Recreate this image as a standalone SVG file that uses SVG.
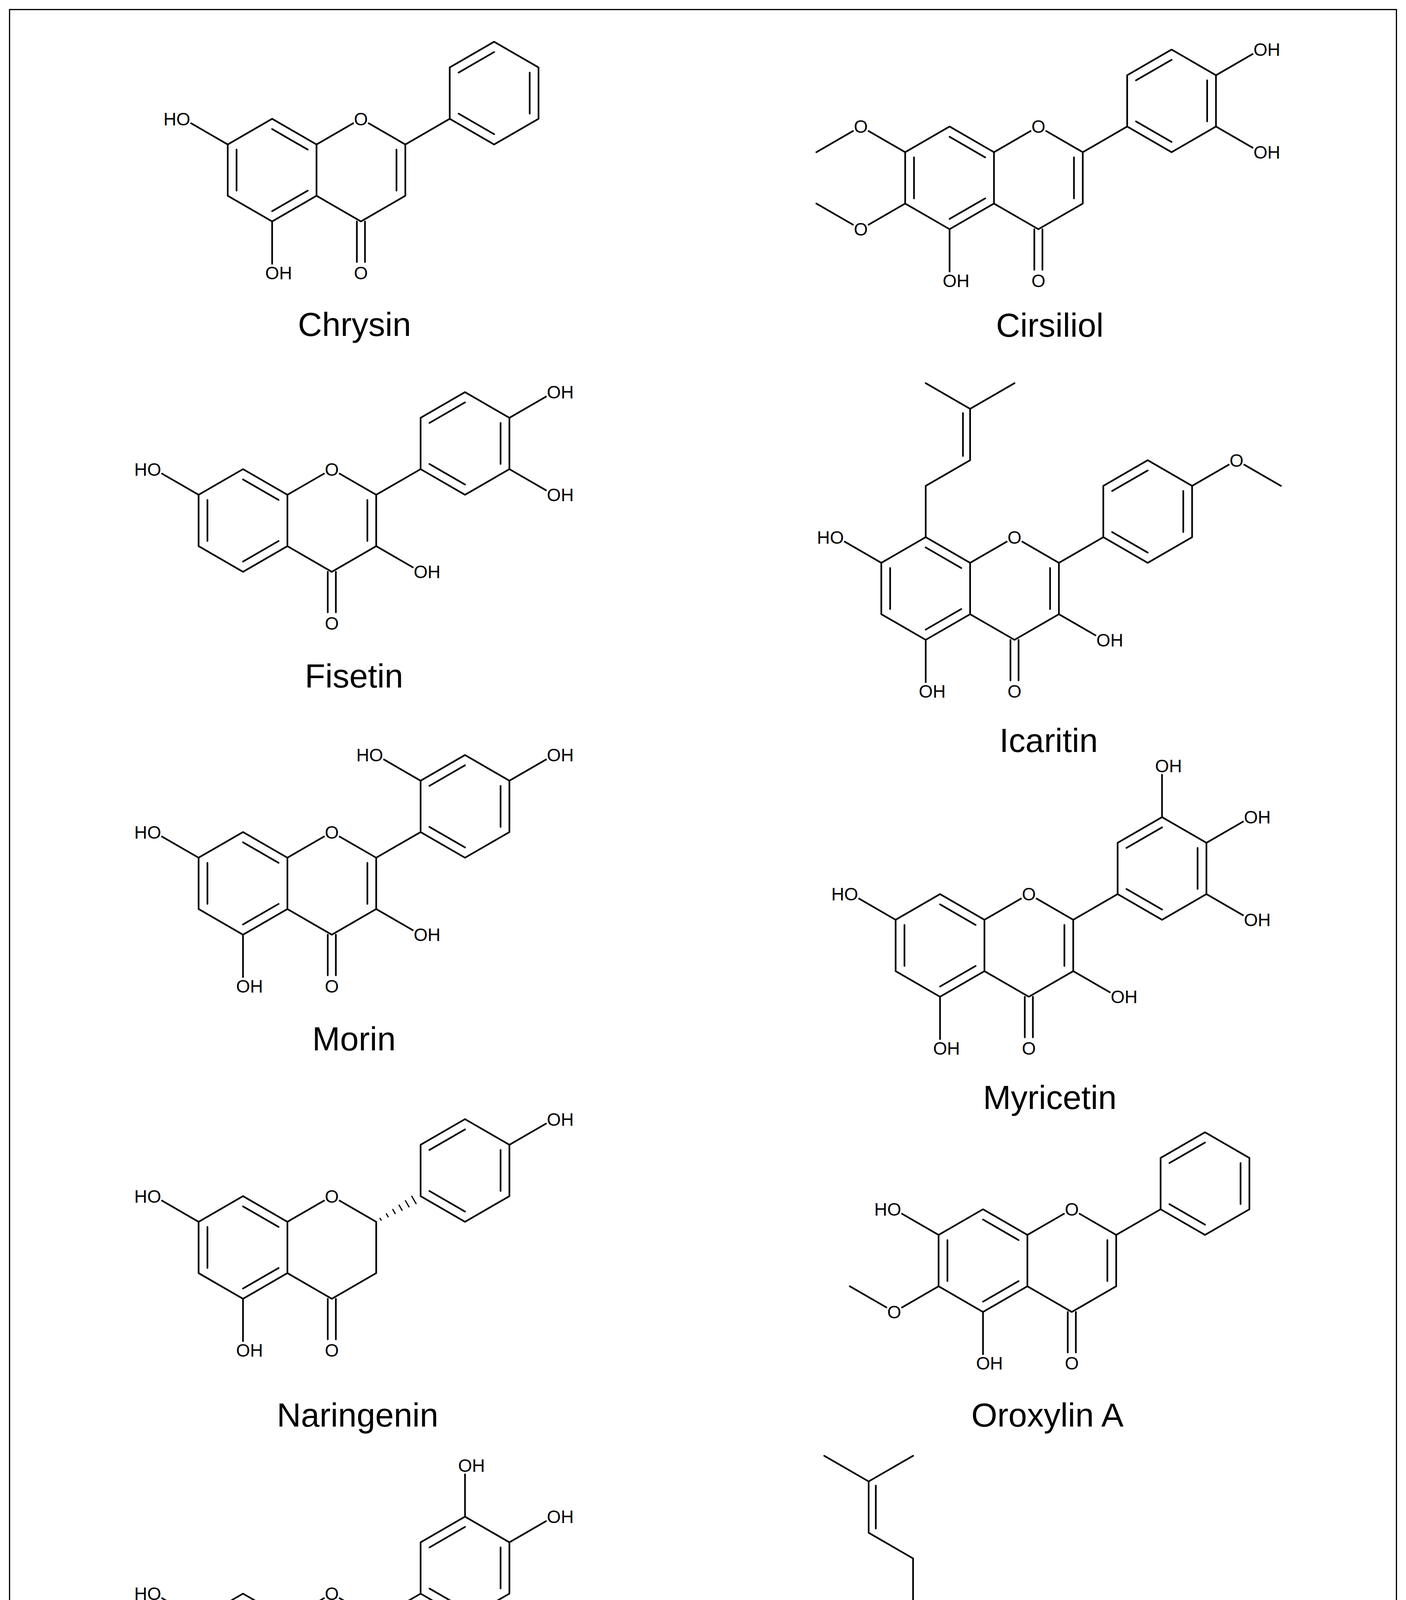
<svg xmlns="http://www.w3.org/2000/svg" xmlns:xlink="http://www.w3.org/1999/xlink" width="3600" height="4790" viewBox="0 0 3600 4790">
<style>
.b{fill:none;stroke:#000;stroke-width:1.4;stroke-linecap:round;stroke-linejoin:round}
.h{stroke:#000;stroke-width:1}
.m{fill:#fff;stroke:none}
.l{font-family:"Liberation Sans",Arial,sans-serif;font-size:15px;fill:#000}
.n{font-family:"Liberation Sans",Arial,sans-serif;font-size:28px;fill:#000;text-anchor:middle}
</style>
<defs>
<g id="coreAC">
<polygon class="b" points="0,-43 37.2,-21.5 37.2,21.5 0,43 -37.2,21.5 -37.2,-21.5"/>
<path class="b" d="M37.2,-21.5 L74.4,-43 L111.6,-21.5 L111.6,21.5 L74.4,43 L37.2,21.5 M-29.8,17.2 L-29.8,-17.2 M0,-34.4 L29.8,-17.2 M29.8,17.2 L0,34.4 M71,43 L71,77 M77.8,43 L77.8,77"/>
<circle class="m" cx="74.4" cy="-43" r="7"/>
<text class="l" x="74.4" y="-37.6" text-anchor="middle">O</text>
<text class="l" x="74.4" y="91.4" text-anchor="middle">O</text>
</g>
<path id="c23" class="b" d="M104.2,-17.2 L104.2,17.2 M111.6,-21.5 L148.8,-43"/>
<g id="ringB">
<polygon class="b" points="148.8,-43 148.8,-86 186,-107.5 223.2,-86 223.2,-43 186,-21.5"/>
<path class="b" d="M156.2,-81.7 L186,-98.9 M215.8,-81.7 L215.8,-47.3 M186,-30.1 L156.2,-47.3"/>
</g>
</defs>
<rect x="0" y="0" width="3600" height="4790" fill="#fff"/>
<g transform="scale(3.056)">
<rect x="8" y="8" width="1162" height="1552" fill="none" stroke="#000" stroke-width="1"/>

<g id="chrysin" transform="translate(228,142.5)">
<use xlink:href="#coreAC"/><use xlink:href="#c23"/><use xlink:href="#ringB"/>
<path class="b" d="M-37.2,-21.5 L-74.4,-43 M0,43 L0,86"/>
<circle class="m" cx="-74.4" cy="-43" r="7"/><circle class="m" cx="0" cy="86" r="7"/>
<text class="l" x="-68.6" y="-37.6" text-anchor="end">HO</text>
<text class="l" x="-5.8" y="91.4">OH</text>
<text class="n" x="69" y="139">Chrysin</text>
</g>

<g id="cirsiliol" transform="translate(795.6,149)">
<use xlink:href="#coreAC"/><use xlink:href="#c23"/><use xlink:href="#ringB"/>
<path class="b" d="M-37.2,-21.5 L-74.4,-43 L-111.6,-21.5 M-37.2,21.5 L-74.4,43 L-111.6,21.5 M0,43 L0,86 M223.2,-86 L260.4,-107.5 M223.2,-43 L260.4,-21.5"/>
<circle class="m" cx="-74.4" cy="-43" r="7"/><circle class="m" cx="-74.4" cy="43" r="7"/><circle class="m" cx="0" cy="86" r="7"/><circle class="m" cx="260.4" cy="-107.5" r="7"/><circle class="m" cx="260.4" cy="-21.5" r="7"/>
<text class="l" x="-74.4" y="-37.6" text-anchor="middle">O</text>
<text class="l" x="-74.4" y="48.4" text-anchor="middle">O</text>
<text class="l" x="-5.8" y="91.4">OH</text>
<text class="l" x="254.6" y="-102.1">OH</text>
<text class="l" x="254.6" y="-16.1">OH</text>
<text class="n" x="84" y="133">Cirsiliol</text>
</g>

<g id="fisetin" transform="translate(203.6,436)">
<use xlink:href="#coreAC"/><use xlink:href="#c23"/><use xlink:href="#ringB"/>
<path class="b" d="M-37.2,-21.5 L-74.4,-43 M111.6,21.5 L148.8,43 M223.2,-86 L260.4,-107.5 M223.2,-43 L260.4,-21.5"/>
<circle class="m" cx="-74.4" cy="-43" r="7"/><circle class="m" cx="148.8" cy="43" r="7"/><circle class="m" cx="260.4" cy="-107.5" r="7"/><circle class="m" cx="260.4" cy="-21.5" r="7"/>
<text class="l" x="-68.6" y="-37.6" text-anchor="end">HO</text>
<text class="l" x="143" y="48.4">OH</text>
<text class="l" x="254.6" y="-102.1">OH</text>
<text class="l" x="254.6" y="-16.1">OH</text>
<text class="n" x="93" y="140">Fisetin</text>
</g>

<g id="icaritin" transform="translate(775.6,493)">
<use xlink:href="#coreAC"/><use xlink:href="#c23"/><use xlink:href="#ringB"/>
<path class="b" d="M-37.2,-21.5 L-74.4,-43 M0,43 L0,86 M111.6,21.5 L148.8,43 M223.2,-86 L260.4,-107.5 L297.6,-86 M0,-43 L0,-86 L37.2,-107.5 L37.2,-150.5 L0,-172 M37.2,-150.5 L74.4,-172 M31.2,-111 L31.2,-147"/>
<circle class="m" cx="-74.4" cy="-43" r="7"/><circle class="m" cx="0" cy="86" r="7"/><circle class="m" cx="148.8" cy="43" r="7"/><circle class="m" cx="260.4" cy="-107.5" r="7"/>
<text class="l" x="-68.6" y="-37.6" text-anchor="end">HO</text>
<text class="l" x="-5.8" y="91.4">OH</text>
<text class="l" x="143" y="48.4">OH</text>
<text class="l" x="260.4" y="-102.1" text-anchor="middle">O</text>
<text class="n" x="103" y="137">Icaritin</text>
</g>

<g id="morin" transform="translate(203.6,740)">
<use xlink:href="#coreAC"/><use xlink:href="#c23"/><use xlink:href="#ringB"/>
<path class="b" d="M-37.2,-21.5 L-74.4,-43 M0,43 L0,86 M111.6,21.5 L148.8,43 M148.8,-86 L111.6,-107.5 M223.2,-86 L260.4,-107.5"/>
<circle class="m" cx="-74.4" cy="-43" r="7"/><circle class="m" cx="0" cy="86" r="7"/><circle class="m" cx="148.8" cy="43" r="7"/><circle class="m" cx="111.6" cy="-107.5" r="7"/><circle class="m" cx="260.4" cy="-107.5" r="7"/>
<text class="l" x="-68.6" y="-37.6" text-anchor="end">HO</text>
<text class="l" x="-5.8" y="91.4">OH</text>
<text class="l" x="143" y="48.4">OH</text>
<text class="l" x="117.4" y="-102.1" text-anchor="end">HO</text>
<text class="l" x="254.6" y="-102.1">OH</text>
<text class="n" x="93" y="140">Morin</text>
</g>

<g id="myricetin" transform="translate(787.6,792)">
<use xlink:href="#coreAC"/><use xlink:href="#c23"/><use xlink:href="#ringB"/>
<path class="b" d="M-37.2,-21.5 L-74.4,-43 M0,43 L0,86 M111.6,21.5 L148.8,43 M186,-107.5 L186,-150.5 M223.2,-86 L260.4,-107.5 M223.2,-43 L260.4,-21.5"/>
<circle class="m" cx="-74.4" cy="-43" r="7"/><circle class="m" cx="0" cy="86" r="7"/><circle class="m" cx="148.8" cy="43" r="7"/><circle class="m" cx="186" cy="-150.5" r="7"/><circle class="m" cx="260.4" cy="-107.5" r="7"/><circle class="m" cx="260.4" cy="-21.5" r="7"/>
<text class="l" x="-68.6" y="-37.6" text-anchor="end">HO</text>
<text class="l" x="-5.8" y="91.4">OH</text>
<text class="l" x="143" y="48.4">OH</text>
<text class="l" x="180.2" y="-145.1">OH</text>
<text class="l" x="254.6" y="-102.1">OH</text>
<text class="l" x="254.6" y="-16.1">OH</text>
<text class="n" x="92" y="137">Myricetin</text>
</g>

<g id="naringenin" transform="translate(203.6,1045)">
<use xlink:href="#coreAC"/><use xlink:href="#ringB"/>
<path class="h" d="M114.6,-24.8 L116,-22.5 M119.95,-28.55 L121.85,-25.25 M125.3,-32.2 L127.7,-28 M130.6,-35.8 L133.5,-30.8 M135.9,-39.5 L139.3,-33.6 M141.2,-43.3 L145.2,-36.3"/>
<path class="b" d="M-37.2,-21.5 L-74.4,-43 M0,43 L0,86 M223.2,-86 L260.4,-107.5"/>
<circle class="m" cx="-74.4" cy="-43" r="7"/><circle class="m" cx="0" cy="86" r="7"/><circle class="m" cx="260.4" cy="-107.5" r="7"/>
<text class="l" x="-68.6" y="-37.6" text-anchor="end">HO</text>
<text class="l" x="-5.8" y="91.4">OH</text>
<text class="l" x="254.6" y="-102.1">OH</text>
<text class="n" x="96" y="150">Naringenin</text>
</g>

<g id="oroxylinA" transform="translate(823.6,1056)">
<use xlink:href="#coreAC"/><use xlink:href="#c23"/><use xlink:href="#ringB"/>
<path class="b" d="M-37.2,-21.5 L-74.4,-43 M-37.2,21.5 L-74.4,43 L-111.6,21.5 M0,43 L0,86"/>
<circle class="m" cx="-74.4" cy="-43" r="7"/><circle class="m" cx="-74.4" cy="43" r="7"/><circle class="m" cx="0" cy="86" r="7"/>
<text class="l" x="-68.6" y="-37.6" text-anchor="end">HO</text>
<text class="l" x="-74.4" y="48.4" text-anchor="middle">O</text>
<text class="l" x="-5.8" y="91.4">OH</text>
<text class="n" x="54" y="139">Oroxylin A</text>
</g>

<g id="quercetin" transform="translate(203.6,1378)">
<use xlink:href="#coreAC"/><use xlink:href="#c23"/><use xlink:href="#ringB"/>
<path class="b" d="M-37.2,-21.5 L-74.4,-43 M0,43 L0,86 M111.6,21.5 L148.8,43 M186,-107.5 L186,-150.5 M223.2,-86 L260.4,-107.5"/>
<circle class="m" cx="-74.4" cy="-43" r="7"/><circle class="m" cx="0" cy="86" r="7"/><circle class="m" cx="148.8" cy="43" r="7"/><circle class="m" cx="186" cy="-150.5" r="7"/><circle class="m" cx="260.4" cy="-107.5" r="7"/>
<text class="l" x="-68.6" y="-37.6" text-anchor="end">HO</text>
<text class="l" x="-5.8" y="91.4">OH</text>
<text class="l" x="143" y="48.4">OH</text>
<text class="l" x="180.2" y="-145.1">OH</text>
<text class="l" x="254.6" y="-102.1">OH</text>
<text class="n" x="93" y="145">Quercetin</text>
</g>

<g id="xanthohumol" transform="translate(765,1391.5)">
<polygon class="b" points="0,-43 37.2,-21.5 37.2,21.5 0,43 -37.2,21.5 -37.2,-21.5"/>
<path class="b" d="M-29.8,17.2 L-29.8,-17.2 M0,-34.4 L29.8,-17.2 M29.8,17.2 L0,34.4 M37.2,-21.5 L74.4,-43 M-37.2,-21.5 L-74.4,-43 M0,43 L0,86 L-37.2,107.5 M0,-43 L0,-86 L-37.2,-107.5 L-37.2,-150.5 L-74.4,-172 M-37.2,-150.5 L0,-172 M-31.2,-111 L-31.2,-147 M37.2,21.5 L74.4,43 L111.6,21.5 L148.8,43 L186,21.5 M119.1,18.9 L147.3,35.2 M71,43 L71,77 M77.8,43 L77.8,77 M186,-21.5 L223.2,-43 L260.4,-21.5 L260.4,21.5 L223.2,43 L186,21.5 Z M193.4,-17.2 L223.2,-34.4 M252.9,-17.2 L252.9,17.2 M193.4,17.2 L223.2,34.4 M260.4,-21.5 L297.6,-43"/>
<circle class="m" cx="-74.4" cy="-43" r="7"/><circle class="m" cx="74.4" cy="-43" r="7"/><circle class="m" cx="0" cy="86" r="7"/><circle class="m" cx="297.6" cy="-43" r="7"/>
<text class="l" x="-68.6" y="-37.6" text-anchor="end">HO</text>
<text class="l" x="68.6" y="-37.6">OH</text>
<text class="l" x="0" y="91.4" text-anchor="middle">O</text>
<text class="l" x="74.4" y="91.4" text-anchor="middle">O</text>
<text class="l" x="291.8" y="-37.6">OH</text>
<text class="n" x="113" y="131">Xanthohumol</text>
</g>
</g>
</svg>
